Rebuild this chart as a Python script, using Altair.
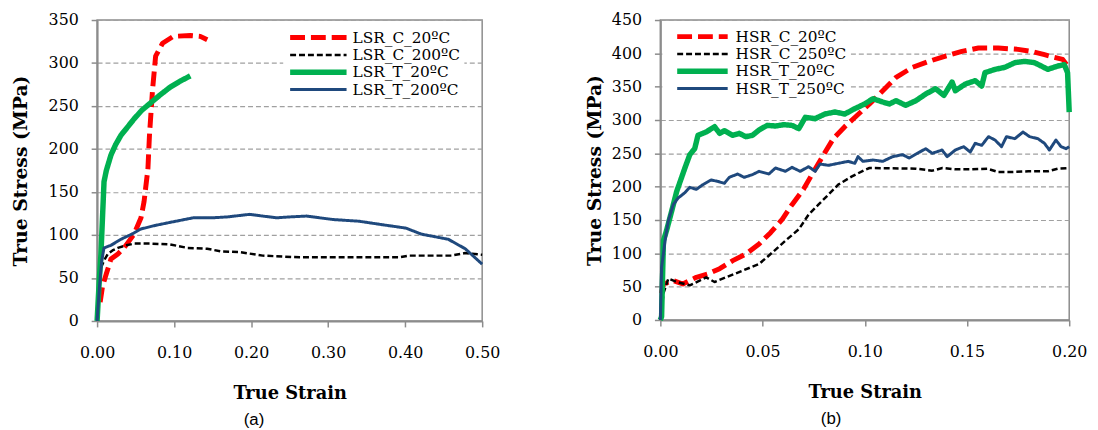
import altair as alt
import pandas as pd

# ---------------- Panel (a): LSR ----------------
lsr_names = ["LSR_C_20ºC", "LSR_C_200ºC", "LSR_T_20ºC", "LSR_T_200ºC"]

lsr_c20_x = [0.004, 0.007, 0.012, 0.018, 0.027, 0.035, 0.048, 0.057, 0.061, 0.066, 0.068,
             0.072, 0.076, 0.085, 0.099, 0.121, 0.134, 0.143]
lsr_c20_y = [22, 40, 55, 72, 78, 85, 101, 120, 139, 177, 216, 269, 308, 323, 331, 332, 331, 327]

lsr_c200_x = [0.0, 0.003, 0.005, 0.010, 0.014, 0.020, 0.027, 0.038, 0.048, 0.070, 0.095, 0.117,
              0.143, 0.160, 0.186, 0.215, 0.263, 0.306, 0.350, 0.392, 0.405, 0.460, 0.478, 0.500]
lsr_c200_y = [0, 40, 62, 72, 78, 82, 85, 88, 90, 90, 89, 85, 84, 81, 80, 76, 74, 74, 74, 74,
              76, 76, 79, 77]

lsr_t20_x = [0.0, 0.003, 0.005, 0.009, 0.012, 0.018, 0.024, 0.031, 0.040, 0.048, 0.058, 0.070,
             0.082, 0.095, 0.108, 0.121]
lsr_t20_y = [0, 50, 78, 162, 175, 193, 205, 216, 226, 235, 245, 254, 263, 272, 279, 285]

lsr_t200_x = [0.0, 0.003, 0.006, 0.009, 0.018, 0.031, 0.045, 0.057, 0.075, 0.091, 0.108, 0.125,
              0.150, 0.169, 0.198, 0.215, 0.233, 0.250, 0.272, 0.306, 0.340, 0.370, 0.401, 0.421,
              0.456, 0.478, 0.500]
lsr_t200_y = [0, 39, 70, 85, 88, 95, 101, 107, 111, 114, 117, 120, 120, 121, 124, 122, 120, 121,
              122, 118, 116, 112, 108, 101, 95, 84, 66]

# ---------------- Panel (b): HSR ----------------
hsr_names = ["HSR_C_20ºC", "HSR_C_250ºC", "HSR_T_20ºC", "HSR_T_250ºC"]

hsr_c20_x = [0.0005, 0.0015, 0.0063, 0.011, 0.0176, 0.0232, 0.029, 0.0354, 0.0418, 0.0483, 0.0539,
             0.0596, 0.0644, 0.070, 0.0741, 0.0789, 0.0846, 0.0902, 0.0959, 0.1023, 0.1088, 0.1153,
             0.1233, 0.1314, 0.1395, 0.1475, 0.1556, 0.1653, 0.175, 0.1814, 0.1879, 0.1927, 0.1968,
             0.1992, 0.2]
hsr_c20_y = [40, 54, 59, 54, 64, 69, 77, 89, 99, 114, 131, 151, 173, 196, 218, 243, 272, 290, 306,
             324, 344, 364, 379, 388, 396, 403, 408, 408, 406, 403, 398, 394, 391, 381, 376]

hsr_c250_x = [0.0, 0.0006, 0.0015, 0.0039, 0.008, 0.0144, 0.0192, 0.0224, 0.0265, 0.0321, 0.0402,
              0.0483, 0.0547, 0.0612, 0.0677, 0.0725, 0.0773, 0.0822, 0.087, 0.0935, 0.0999, 0.1023,
              0.125, 0.133, 0.138, 0.1443, 0.152, 0.160, 0.1653, 0.1717, 0.18, 0.1895, 0.1944, 0.2]
hsr_c250_y = [0, 10, 40, 62, 57, 52, 59, 64, 57, 64, 74, 84, 101, 119, 136, 158, 173, 188, 203,
              215, 225, 228, 227, 224, 228, 226, 226, 227, 222, 222, 223, 223, 227, 228]

hsr_t20_x = [0.0, 0.0006, 0.0015, 0.003, 0.0055, 0.008, 0.012, 0.0144, 0.0168, 0.0184, 0.0224,
             0.0265, 0.029, 0.0313, 0.0354, 0.0386, 0.0418, 0.045, 0.0483, 0.0523, 0.0563, 0.0604,
             0.0644, 0.0677, 0.0709, 0.0757, 0.0805, 0.0854, 0.0902, 0.0951, 0.0999, 0.104, 0.1088,
             0.112, 0.1153, 0.120, 0.125, 0.1298, 0.1346, 0.1387, 0.1427, 0.1443, 0.1492, 0.154,
             0.1572, 0.1588, 0.1637, 0.1685, 0.1734, 0.1782, 0.183, 0.1863, 0.1895, 0.1944, 0.1976,
             0.1992, 0.2]
hsr_t20_y = [0, 5, 119, 134, 163, 193, 228, 248, 257, 277, 282, 290, 280, 284, 277, 280, 275, 277,
             285, 292, 291, 293, 292, 287, 304, 302, 309, 312, 309, 317, 324, 332, 327, 324, 329,
             322, 329, 339, 347, 337, 357, 344, 354, 359, 351, 371, 376, 379, 386, 388, 386, 381,
             376, 381, 383, 371, 312]

hsr_t250_x = [0.0, 0.0006, 0.0023, 0.0039, 0.0063, 0.0087, 0.012, 0.0144, 0.0176, 0.0208, 0.0248,
              0.028, 0.0313, 0.0337, 0.0378, 0.041, 0.045, 0.0483, 0.0531, 0.0563, 0.0612, 0.0644,
              0.0684, 0.0725, 0.0757, 0.0781, 0.0822, 0.087, 0.0919, 0.0951, 0.0967, 0.0991, 0.104,
              0.1088, 0.1136, 0.1185, 0.1217, 0.1257, 0.1298, 0.133, 0.1378, 0.1403, 0.1443, 0.1484,
              0.1516, 0.154, 0.1572, 0.1605, 0.1637, 0.1669, 0.1693, 0.1734, 0.1774, 0.1806, 0.1847,
              0.1879, 0.1903, 0.1935, 0.196, 0.1984, 0.2]
hsr_t250_y = [0, 79, 119, 149, 173, 183, 191, 199, 196, 203, 210, 208, 205, 214, 219, 214, 218, 223,
              219, 228, 223, 229, 223, 230, 223, 234, 232, 235, 238, 235, 245, 238, 240, 238, 245,
              248, 243, 250, 257, 250, 255, 245, 255, 260, 252, 265, 262, 275, 270, 260, 275, 272,
              282, 275, 272, 265, 255, 270, 260, 257, 260]

colors = ["#FF0000", "#000000", "#00B050", "#1F497D"]
dashes = [[15, 6], [6, 3], [1, 0], [1, 0]]
widths = [5, 2.5, 5.5, 3]

SERIF = "DejaVu Serif"


def frame(names, xs_list, ys_list):
    rows = []
    for name, xs, ys in zip(names, xs_list, ys_list):
        assert len(xs) == len(ys), name
        for i, (x, y) in enumerate(zip(xs, ys)):
            rows.append({"series": name, "strain": x, "stress": y, "idx": i})
    return pd.DataFrame(rows)


def panel(df, names, xmax, xstep, ymax, width, height, legend_x, legend_y,
          sym_len, sym_off, lab_off, title_pad, caption, cap_dx):
    n = int(round(xmax / xstep))
    xvals = [round(i * xstep, 4) for i in range(n + 1)]
    leg = alt.Legend(
        orient="none", legendX=legend_x, legendY=legend_y, title=None,
        symbolType="stroke", symbolSize=sym_len * sym_len, clipHeight=15.5,
        rowPadding=0.5, labelFont=SERIF, labelFontSize=15.5, labelColor="black",
        fillColor="white", padding=4, labelOffset=lab_off, symbolOffset=sym_off,
        labelLimit=300,
    )
    return alt.Chart(df).mark_line(strokeCap="butt", strokeJoin="round").encode(
        x=alt.X("strain:Q", scale=alt.Scale(domain=[0, xmax], nice=False, zero=True),
                axis=alt.Axis(values=xvals, format=".2f", title="True Strain", grid=False,
                              labelFlush=False, labelPadding=18, titlePadding=24, tickSize=6,
                              titleFontSize=18)),
        y=alt.Y("stress:Q", scale=alt.Scale(domain=[0, ymax], nice=False),
                axis=alt.Axis(values=list(range(0, ymax + 1, 50)), title="True Stress (MPa)",
                              grid=True, labelFlush=False, labelPadding=13,
                              titlePadding=title_pad, tickSize=6, titleFontSize=19)),
        color=alt.Color("series:N", scale=alt.Scale(domain=names, range=colors), legend=leg),
        strokeDash=alt.StrokeDash("series:N", scale=alt.Scale(domain=names, range=dashes), legend=leg),
        strokeWidth=alt.StrokeWidth("series:N", scale=alt.Scale(type="ordinal", domain=names, range=widths),
                                    legend=leg),
        order=alt.Order("idx:Q"),
    ).properties(
        width=width, height=height,
        title=alt.TitleParams(caption, orient="bottom", anchor="middle", font="Liberation Sans",
                              fontSize=17, fontWeight="normal", color="black", dx=cap_dx, offset=10),
    )


df_a = frame(lsr_names, [lsr_c20_x, lsr_c200_x, lsr_t20_x, lsr_t200_x],
             [lsr_c20_y, lsr_c200_y, lsr_t20_y, lsr_t200_y])
df_b = frame(hsr_names, [hsr_c20_x, hsr_c250_x, hsr_t20_x, hsr_t250_x],
             [hsr_c20_y, hsr_c250_y, hsr_t20_y, hsr_t250_y])

left = panel(df_a, lsr_names, 0.5, 0.1, 350, 389, 304, 188, 6, 57, 0, 3, 18, "(a)", -36)
right = panel(df_b, hsr_names, 0.2, 0.05, 450, 413, 303, 2, 5, 51, 8, 5, 7, "(b)", -34)

chart = alt.hconcat(left, right, spacing=180, bounds="flush").resolve_scale(
    color="independent", strokeDash="independent", strokeWidth="independent"
).resolve_legend(
    color="independent", strokeDash="independent", strokeWidth="independent"
).configure(
    padding={"left": 2, "top": 1, "right": 2, "bottom": 0}, background="white"
).configure_view(
    stroke="#8c8c8c", strokeWidth=1.5
).configure_axis(
    labelFont=SERIF, labelFontSize=16, labelColor="black",
    titleFont=SERIF, titleFontWeight="bold", titleColor="black",
    domainColor="#8c8c8c", domainWidth=2, tickColor="#8c8c8c", tickWidth=1.5,
    gridColor="#a0a0a0", gridDash=[5, 3], gridWidth=1.2,
)

chart.save("out.html", embed_options={"renderer": "svg", "actions": False})
